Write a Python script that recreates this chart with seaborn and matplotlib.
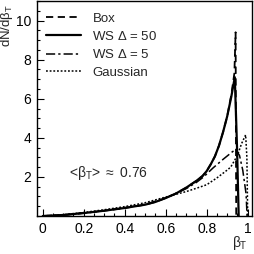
import numpy as np
import pandas as pd
import seaborn as sns
import matplotlib
matplotlib.use("Agg")
import matplotlib.pyplot as plt
from matplotlib.ticker import MultipleLocator

# values
box_beta = [0.0, 0.1, 0.2, 0.3, 0.4, 0.5, 0.55, 0.6, 0.65, 0.7, 0.75, 0.78,
            0.8, 0.82, 0.84, 0.86, 0.88, 0.9, 0.92, 0.935, 0.941, 0.944]
box_dn = [0.0, 0.05, 0.15, 0.27, 0.41, 0.58, 0.72, 0.92, 1.15, 1.45, 1.8, 2.05,
          2.3, 2.65, 3.05, 3.6, 4.3, 5.1, 6.2, 7.3, 9.4, 0.0]

ws50_beta = [0.0, 0.1, 0.2, 0.3, 0.4, 0.5, 0.55, 0.6, 0.65, 0.7, 0.75, 0.78,
             0.8, 0.82, 0.84, 0.86, 0.88, 0.9, 0.92, 0.937, 0.948, 0.956]
ws50_dn = [0.0, 0.05, 0.15, 0.27, 0.41, 0.58, 0.72, 0.92, 1.15, 1.45, 1.8, 2.05,
           2.3, 2.65, 3.05, 3.6, 4.3, 5.1, 6.1, 7.1, 3.5, 0.0]

ws5_beta = [0.0, 0.1, 0.2, 0.3, 0.4, 0.5, 0.6, 0.7, 0.75, 0.785, 0.83, 0.88,
            0.927, 0.943, 0.96, 0.976, 0.992, 0.997]
ws5_dn = [0.0, 0.05, 0.15, 0.27, 0.42, 0.6, 0.92, 1.4, 1.72, 2.0, 2.45, 2.9,
          3.3, 3.37, 3.1, 2.34, 1.14, 0.0]

gauss_beta = [0.0, 0.1, 0.2, 0.3, 0.4, 0.5, 0.6, 0.7, 0.75, 0.8, 0.85, 0.9,
              0.917, 0.95, 0.97, 0.99, 0.996, 1.0]
gauss_dn = [0.0, 0.07, 0.18, 0.32, 0.48, 0.68, 0.97, 1.25, 1.42, 1.6, 1.95, 2.35,
            2.5, 3.1, 3.7, 4.15, 3.0, 0.0]

labels = ["Box", "WS $\\Delta$ = 50", "WS $\\Delta$ = 5", "Gaussian"]
mean_text = r"<$\beta_\mathrm{T}$> $\approx$ 0.76"


def main():
    sns.set_theme(style="ticks")
    plt.rcParams["font.family"] = ["Liberation Sans", "DejaVu Sans"]
    plt.rcParams["mathtext.fontset"] = "custom"
    plt.rcParams["mathtext.rm"] = "Liberation Sans"
    plt.rcParams["mathtext.it"] = "Liberation Sans"

    fig = plt.figure(figsize=(2.54, 2.54), dpi=100)
    ax = fig.add_axes([37 / 254, 38 / 254, 215 / 254, 215 / 254])

    series = [
        (box_beta, box_dn, (0, (4, 2.5)), 1.3),
        (ws50_beta, ws50_dn, "-", 1.6),
        (ws5_beta, ws5_dn, (0, (6, 2, 1.5, 2)), 1.1),
        (gauss_beta, gauss_dn, (0, (1.2, 1.2)), 1.1),
    ]
    for (xs, ys, ls, lw), lab in zip(series, labels):
        df = pd.DataFrame({"beta": xs, "dn": ys})
        sns.lineplot(data=df, x="beta", y="dn", ax=ax, color="black",
                     linestyle=ls, linewidth=lw, label=lab,
                     estimator=None, sort=False)

    ax.set_xlim(-0.028, 1.021)
    ax.set_ylim(0, 11.0)
    ax.xaxis.set_minor_locator(MultipleLocator(0.05))
    ax.yaxis.set_minor_locator(MultipleLocator(0.5))
    ax.set_xticks([0, 0.2, 0.4, 0.6, 0.8, 1.0])
    ax.set_xticklabels(["0", "0.2", "0.4", "0.6", "0.8", "1"])
    ax.set_yticks([2, 4, 6, 8, 10])
    ax.set_yticklabels(["2", "4", "6", "8", "10"])
    ax.tick_params(which="both", direction="in", top=False, right=False,
                   labelsize=10, colors="black", pad=4)
    ax.tick_params(which="major", length=5, width=0.8)
    ax.tick_params(which="minor", length=2.5, width=0.8)
    for sp in ax.spines.values():
        sp.set_linewidth(1.0)
        sp.set_color("black")

    ax.set_xlabel("")
    ax.set_ylabel("")
    fig.text(240 / 254, 1 - 243 / 254, r"$\beta_\mathrm{T}$", ha="center",
             va="center", fontsize=10)
    fig.text(7 / 254, 1 - 25 / 254, r"dN/d$\beta_\mathrm{T}$", ha="center",
             va="center", rotation=90, fontsize=9.5)
    ax.text(0.13, 2.2, mean_text, ha="left", va="center", fontsize=10)

    ax.legend(loc="upper left", frameon=False, fontsize=9.5,
              handlelength=2.6, handletextpad=0.9, labelspacing=0.4,
              borderaxespad=0.3, bbox_to_anchor=(0.0, 0.99))

    fig.savefig("out.png", dpi=100)


if __name__ == "__main__":
    main()
